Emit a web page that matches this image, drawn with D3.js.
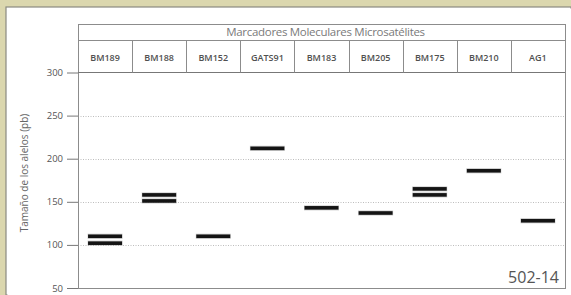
<!DOCTYPE html>
<html lang="es">
<head>
<meta charset="utf-8">
<title>Marcadores Moleculares Microsatélites</title>
<script src="https://cdn.jsdelivr.net/npm/d3@7"></script>
<style>
  body { margin: 0; background: #fff; }
  text { font-family: "Open Sans", sans-serif; }
  .grid line { stroke: #bdbdbd; stroke-dasharray: 1, 1.5; }
</style>
</head>
<body>
<div id="chart"></div>
<script>
// data
const markers = ["BM189", "BM188", "BM152", "GATS91", "BM183", "BM205", "BM175", "BM210", "AG1"];
const allele1 = [102, 151, 110, 212, 143, 137, 158, 186, 128];
const allele2 = [110, 158, null, null, null, null, 165, null, null];
const yTicks = [50, 100, 150, 200, 250, 300];
const title = "Marcadores Moleculares Microsatélites";
const yTitle = "Tamaño de los alelos (pb)";
const sampleId = "502-14";

const W = 571, H = 295;
const box = {left: 78, right: 565, top: 24, titleBottom: 40, plotTop: 72.5, bottom: 288};

const svg = d3.select("#chart").append("svg")
    .attr("width", W).attr("height", H);

// beige frame
svg.append("rect").attr("width", W).attr("height", H).attr("fill", "#dbd7ae");
svg.append("rect").attr("x", 6).attr("y", 7).attr("width", W - 6).attr("height", H - 7)
    .attr("fill", "#fff").attr("stroke", "#8a8a80").attr("stroke-width", 1.2);
svg.append("rect").attr("x", 7.5).attr("y", 8.5).attr("width", W - 7).attr("height", H - 8)
    .attr("fill", "#fff");

const x = d3.scaleBand().domain(markers).range([box.left, box.right]);
const y = d3.scaleLinear().domain([50, 300]).range([box.bottom, box.plotTop]);

// grid
svg.append("g").attr("class", "grid")
    .selectAll("line").data(yTicks.filter(d => d > 50 && d < 300))
    .join("line")
    .attr("x1", box.left).attr("x2", box.right)
    .attr("y1", d => Math.round(y(d)) + 0.5).attr("y2", d => Math.round(y(d)) + 0.5);

// y axis
const yAxis = d3.axisLeft(y).tickValues(yTicks).tickSize(11).tickPadding(4);
const ya = svg.append("g").attr("transform", `translate(${box.left},0)`).call(yAxis);
ya.select(".domain").remove();
ya.selectAll(".tick line").attr("stroke", "#777");
ya.selectAll(".tick text").attr("fill", "#555").attr("font-size", 9.5)
    .attr("font-family", "'Open Sans', sans-serif");

// box and header
const frame = svg.append("g").attr("fill", "none").attr("stroke", "#8c8c8c").attr("stroke-width", 1);
frame.append("rect").attr("x", box.left + 0.5).attr("y", box.top + 0.5)
    .attr("width", box.right - box.left).attr("height", box.bottom - box.top);
frame.append("line").attr("x1", box.left).attr("x2", box.right)
    .attr("y1", box.titleBottom + 0.5).attr("y2", box.titleBottom + 0.5);
frame.append("line").attr("x1", box.left).attr("x2", box.right)
    .attr("y1", box.plotTop).attr("y2", box.plotTop).attr("stroke", "#777");
frame.selectAll("line.div").data(markers.slice(1)).join("line")
    .attr("class", "div")
    .attr("x1", d => Math.round(x(d)) + 0.5).attr("x2", d => Math.round(x(d)) + 0.5)
    .attr("y1", box.titleBottom).attr("y2", box.plotTop);

svg.append("text").attr("x", (box.left + box.right) / 2 + 4).attr("y", 36)
    .attr("text-anchor", "middle").attr("font-size", 11.5).attr("fill", "#7a7a7a")
    .attr("letter-spacing", -0.3)
    .text(title);

svg.append("g").selectAll("text").data(markers).join("text")
    .attr("x", d => x(d) + x.bandwidth() / 2).attr("y", 60.5)
    .attr("text-anchor", "middle").attr("font-size", 9).attr("font-weight", 600)
    .attr("fill", "#505050")
    .text(d => d);

// y title
svg.append("text")
    .attr("transform", `translate(28,${173}) rotate(-90)`)
    .attr("text-anchor", "middle").attr("font-size", 10).attr("fill", "#666")
    .text(yTitle);

// allele bands
const bands = [];
markers.forEach((m, i) => {
  [allele1[i], allele2[i]].forEach(v => { if (v != null) bands.push({m, v}); });
});
const bw = 34, bh = 3.6;
const bg = svg.append("g");
bg.selectAll("rect.sh").data(bands).join("rect").attr("class", "sh")
    .attr("x", d => x(d.m) + x.bandwidth() / 2 - bw / 2 - 0.5)
    .attr("y", d => y(d.v) - bh / 2 - 0.8)
    .attr("width", bw + 1).attr("height", bh + 1.6)
    .attr("fill", "#999").attr("opacity", 0.45);
bg.selectAll("rect.band").data(bands).join("rect").attr("class", "band")
    .attr("x", d => x(d.m) + x.bandwidth() / 2 - bw / 2)
    .attr("y", d => y(d.v) - bh / 2)
    .attr("width", bw).attr("height", bh)
    .attr("fill", "#141414");

// sample id
svg.append("text").attr("x", box.right - 6).attr("y", 283)
    .attr("text-anchor", "end").attr("font-size", 16).attr("fill", "#555")
    .text(sampleId);
</script>
</body>
</html>
